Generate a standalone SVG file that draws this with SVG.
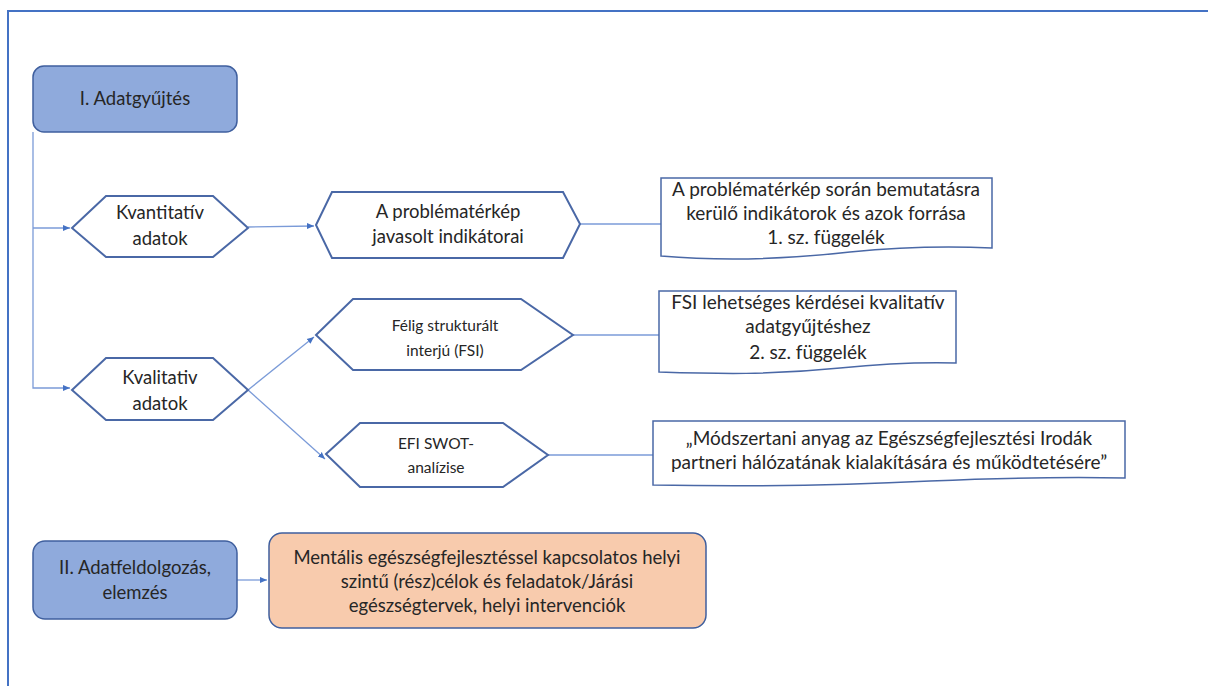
<svg xmlns="http://www.w3.org/2000/svg" width="1208" height="686" viewBox="0 0 1208 686">
<defs>
<marker id="arr" markerWidth="8" markerHeight="8" refX="7" refY="4" orient="auto" markerUnits="userSpaceOnUse">
<path d="M0,1 L7,4 L0,7 Z" fill="#4472c4"/>
</marker>
<style>
.t{font-family:Lato,"Open Sans","Liberation Sans",sans-serif;fill:#262626;text-anchor:middle;}
.hex{fill:#fff;stroke:#4a68a6;stroke-width:2;}
.doc{fill:#fff;stroke:#4a68a6;stroke-width:1.5;}
.box{fill:#8faadc;stroke:#3f5f9e;stroke-width:1.5;}
.peach{fill:#f8cbad;stroke:#3f5f9e;stroke-width:1.5;}
.c{fill:none;stroke:#7b9bd8;stroke-width:1.3;}
</style>
</defs>
<rect x="0" y="0" width="1208" height="686" fill="#fff"/>
<path d="M8,686 V11 H1208" fill="none" stroke="#4472c4" stroke-width="2"/>

<g id="connectors">
<path class="c" d="M33,132 V388 H70" marker-end="url(#arr)"/>
<path class="c" d="M33,228 H70" marker-end="url(#arr)"/>
<path class="c" d="M248,227 L314,226" marker-end="url(#arr)"/>
<path class="c" d="M580,224 H661"/>
<path class="c" d="M248,390 L314,337" marker-end="url(#arr)"/>
<path class="c" d="M248,390 L325,459" marker-end="url(#arr)"/>
<path class="c" d="M573,335 H659"/>
<path class="c" d="M548,455 H653"/>
<path class="c" d="M237,580 H267" marker-end="url(#arr)"/>
</g>

<g id="n1">
<rect class="box" x="33" y="66" width="204" height="66" rx="11"/>
<text class="t" x="135" y="105" font-size="18.5">I. Adatgyűjtés</text>
</g>

<g id="n2">
<polygon class="hex" points="72,228 106,196 213,196 248,228 213,257 106,257"/>
<text class="t" x="160" y="219" font-size="18.5">Kvantitatív</text>
<text class="t" x="160" y="245" font-size="18.5">adatok</text>
</g>

<g id="n3">
<polygon class="hex" points="316,225 332,192 563,192 580,224 563,258 332,258"/>
<text class="t" x="448" y="218" font-size="18.5">A problématérkép</text>
<text class="t" x="448" y="243" font-size="18.5">javasolt indikátorai</text>
</g>

<g id="n4">
<path class="doc" d="M661,178 H992 V248 C950,246 900,247 850,252 C780,260 720,261 661,256 Z"/>
<text class="t" x="826" y="196" font-size="19">A problématérkép során bemutatásra</text>
<text class="t" x="826" y="220" font-size="19">kerülő indikátorok és azok forrása</text>
<text class="t" x="826" y="244" font-size="19">1. sz. függelék</text>
</g>

<g id="n5">
<polygon class="hex" points="72,390 106,358 213,358 248,390 213,420 106,420"/>
<text class="t" x="160" y="384" font-size="18.5">Kvalitativ</text>
<text class="t" x="160" y="410" font-size="18.5">adatok</text>
</g>

<g id="n6">
<polygon class="hex" points="316,335 353,299 521,299 573,335 521,370 353,370"/>
<text class="t" x="445" y="331" font-size="15.5">Félig strukturált</text>
<text class="t" x="445" y="356" font-size="15.5">interjú (FSI)</text>
</g>

<g id="n7">
<path class="doc" d="M659,291 H956 V363 C920,362 880,364 840,368 C770,375 720,374 659,372 Z"/>
<text class="t" x="808" y="309" font-size="19">FSI lehetséges kérdései kvalitatív</text>
<text class="t" x="808" y="333" font-size="19">adatgyűjtéshez</text>
<text class="t" x="808" y="359" font-size="19">2. sz. függelék</text>
</g>

<g id="n8">
<polygon class="hex" points="326,454 360,423 503,423 548,455 503,487 360,487"/>
<text class="t" x="436" y="449" font-size="15.5">EFI SWOT-</text>
<text class="t" x="436" y="473" font-size="15.5">analízise</text>
</g>

<g id="n9">
<path class="doc" d="M653,421 H1125 V478 C1070,477 1000,478 930,481 C850,485 760,487 653,485 Z"/>
<text class="t" x="889" y="445" font-size="19">„Módszertani anyag az Egészségfejlesztési Irodák</text>
<text class="t" x="889" y="469" font-size="19">partneri hálózatának kialakítására és működtetésére”</text>
</g>

<g id="n10">
<rect class="box" x="33" y="541" width="204" height="78" rx="12"/>
<text class="t" x="135" y="574" font-size="18.5">II. Adatfeldolgozás,</text>
<text class="t" x="135" y="599" font-size="18.5">elemzés</text>
</g>

<g id="n11">
<rect class="peach" x="269" y="533" width="437" height="95" rx="13"/>
<text class="t" x="487" y="564" font-size="18.5">Mentális egészségfejlesztéssel kapcsolatos helyi</text>
<text class="t" x="487" y="588" font-size="18.5">szintű (rész)célok és feladatok/Járási</text>
<text class="t" x="487" y="612" font-size="18.5">egészségtervek, helyi intervenciók</text>
</g>
</svg>
